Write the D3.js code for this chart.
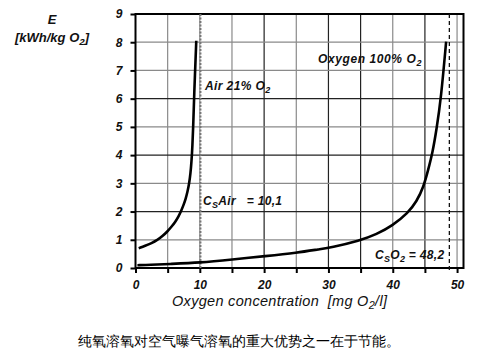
<!DOCTYPE html>
<html><head><meta charset="utf-8">
<script src="https://cdn.jsdelivr.net/npm/d3@7"></script>
<style>
body{margin:0;background:#fff;}
text{font-family:"Liberation Sans",Arial,sans-serif;white-space:pre;}
</style></head>
<body><svg id="c" width="485" height="359"></svg>
<script>
// ---- data ----
const xTicks = [0,5,10,15,20,25,30,35,40,45,50];
const xTickLabels = ["0","","10","","20","","30","","40","","50"];
const yTicks = [0,1,2,3,4,5,6,7,8,9];
const airX = [0.5,1.5,2.5,3.4,4.2,4.9,5.6,6.2,6.7,7.1,7.5,7.8,8.1,8.35,8.55,8.7,8.85,9.0,9.1,9.45];
const airY = [0.70,0.785,0.88,0.99,1.13,1.28,1.46,1.64,1.83,2.02,2.25,2.45,2.72,3.0,3.35,3.75,4.3,5.2,6.0,8.05];
const oxyX = [0.3,2.3,5,10.1,15,20.2,25.1,28.7,30.3,34.9,37.5,39.9,42.4,43.7,44.8,45.5,46.2,46.8,47.5,48.3];
const oxyY = [0.10,0.11,0.14,0.19,0.30,0.42,0.54,0.67,0.72,0.97,1.2,1.49,1.96,2.35,2.88,3.47,4.1,4.9,6.0,8.02];
const csAir = 10.1;
const csO2Line = 48.8;
const darkGridX = [20,30,35,45];
const darkGridY = [2,4,6];

const svg = d3.select("#c");
const x = d3.scaleLinear().domain([0,51]).range([135.5,463.5]);
const y = d3.scaleLinear().domain([0,9]).range([268,14]);

// grid
svg.append("g").selectAll("line").data(xTicks.filter(d=>d>0)).join("line")
  .attr("x1",d=>x(d)).attr("x2",d=>x(d)).attr("y1",y(9)).attr("y2",y(0))
  .attr("stroke",d=>darkGridX.includes(d)?"#222":"#8a8a8a").attr("stroke-width",1.2);
svg.append("g").selectAll("line").data(yTicks.filter(d=>d>0&&d<9)).join("line")
  .attr("x1",x(0)).attr("x2",x(51)).attr("y1",d=>y(d)).attr("y2",d=>y(d))
  .attr("stroke",d=>darkGridY.includes(d)?"#222":"#8a8a8a").attr("stroke-width",1.2);

// frame
svg.append("rect").attr("x",x(0)).attr("y",y(9)).attr("width",x(51)-x(0)).attr("height",y(0)-y(9))
  .attr("fill","none").attr("stroke","#000").attr("stroke-width",2);

// dashed lines
svg.append("line").attr("x1",x(csAir)).attr("x2",x(csAir)).attr("y1",y(9)).attr("y2",y(0))
  .attr("stroke","#777").attr("stroke-width",2).attr("stroke-dasharray","2,1.5");
svg.append("line").attr("x1",x(csO2Line)).attr("x2",x(csO2Line)).attr("y1",y(9)).attr("y2",y(0)+2)
  .attr("stroke","#111").attr("stroke-width",1.3).attr("stroke-dasharray","4,3");

// axes
const xAxis = d3.axisBottom(x).tickValues(xTicks).tickSize(5).tickFormat((d,i)=>xTickLabels[i]);
const gx = svg.append("g").attr("transform",`translate(0,${y(0)})`).call(xAxis);
gx.select(".domain").remove();
gx.selectAll(".tick line").attr("stroke","#000").attr("stroke-width",2);
gx.selectAll(".tick text").attr("y",12).attr("font-size",12).attr("font-weight","bold")
  .attr("font-style","italic").attr("fill","#111").attr("font-family","Liberation Sans, Arial");

const yAxis = d3.axisLeft(y).tickValues(yTicks).tickSize(5).tickFormat(d3.format("d"));
const gy = svg.append("g").attr("transform",`translate(${x(0)},0)`).call(yAxis);
gy.select(".domain").remove();
gy.selectAll(".tick line").attr("stroke","#000").attr("stroke-width",2);
gy.selectAll(".tick text").attr("x",-13).attr("font-size",12).attr("font-weight","bold")
  .attr("font-style","italic").attr("fill","#111").attr("font-family","Liberation Sans, Arial");

// curves
const lineV = d3.line().x(d=>x(d[0])).y(d=>y(d[1])).curve(d3.curveBasis);
svg.append("path").datum(airX.map((v,i)=>[v,airY[i]])).attr("d",lineV)
  .attr("fill","none").attr("stroke","#000").attr("stroke-width",2.6);
svg.append("path").datum(oxyX.map((v,i)=>[v,oxyY[i]])).attr("d",lineV)
  .attr("fill","none").attr("stroke","#000").attr("stroke-width",2.6);

// labels
function lab(px,py,parts,size,opts={}){
  const t = svg.append("text").attr("x",px).attr("y",py).attr("font-size",size)
    .attr("font-style","italic").attr("font-weight",opts.weight||"bold").attr("fill","#111");
  if(opts.anchor) t.attr("text-anchor",opts.anchor);
  if(opts.ls) t.attr("letter-spacing",opts.ls);
  parts.forEach(p=>{
    const s = t.append("tspan").text(p.t);
    if(p.sub){ s.attr("dy",3).attr("font-size",size*0.75); }
    if(p.back){ s.attr("dy",-3); }
  });
  return t;
}
lab(52,24,[{t:"E"}],13,{anchor:"middle"});
lab(52,42,[{t:"[kWh/kg O"},{t:"2",sub:1},{t:"]",back:1}],13,{anchor:"middle"});
lab(205,90,[{t:"Air 21% O"},{t:"2",sub:1}],12,{ls:0.4});
lab(318,63,[{t:"Oxygen 100% O"},{t:"2",sub:1}],12,{ls:0.6});
lab(203,205,[{t:"C"},{t:"S",sub:1},{t:"Air   = 10,1",back:1}],12,{ls:0.3});
lab(375,259,[{t:"C"},{t:"S",sub:1},{t:"O",back:1},{t:"2",sub:1},{t:" = 48,2",back:1}],12,{ls:0.3});
lab(172,306,[{t:"Oxygen concentration  [mg O"},{t:"2",sub:1},{t:"/l]",back:1}],14.5,{weight:"normal",ls:0.3});

svg.append("text").attr("x",78).attr("y",346).attr("font-size",13.7)
  .attr("font-family","Noto Sans CJK SC").attr("fill","#000")
  .text("纯氧溶氧对空气曝气溶氧的重大优势之一在于节能。");
</script></body></html>
